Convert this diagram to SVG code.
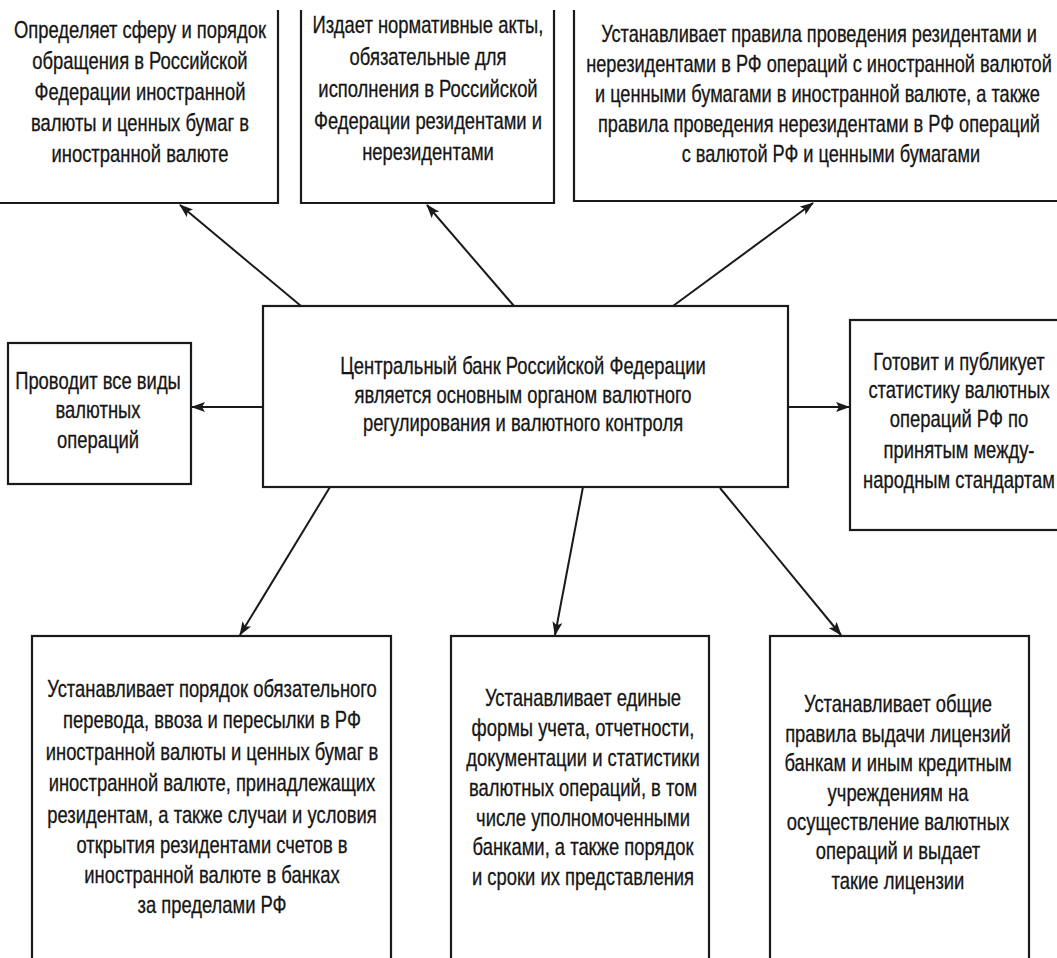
<svg xmlns="http://www.w3.org/2000/svg" width="1057" height="958" viewBox="0 0 1057 958">
<style>
.box{fill:#fff;stroke:#1a1a1a;stroke-width:2.2}
.t{font-family:"Liberation Sans",Arial,sans-serif;font-size:23px;fill:#151515;stroke:#151515;stroke-width:0.3;text-anchor:middle}
.c{stroke:#1a1a1a;stroke-width:2;fill:none}
</style>
<defs>
<marker id="ah" viewBox="0 0 14 10" refX="13" refY="5" markerWidth="14" markerHeight="10" markerUnits="userSpaceOnUse" orient="auto">
<path d="M0,0 L14,5 L0,10 L3,5 Z" fill="#1a1a1a"/>
</marker>
</defs>
<rect width="1057" height="958" fill="#fff"/>

<g id="connectors">
<line class="c" x1="301" y1="306" x2="180" y2="205" marker-end="url(#ah)"/>
<line class="c" x1="514" y1="306" x2="427" y2="205" marker-end="url(#ah)"/>
<line class="c" x1="673" y1="306" x2="813" y2="203" marker-end="url(#ah)"/>
<line class="c" x1="263" y1="407" x2="192" y2="407" marker-end="url(#ah)"/>
<line class="c" x1="788" y1="407" x2="849" y2="407" marker-end="url(#ah)"/>
<line class="c" x1="330" y1="487" x2="240" y2="635" marker-end="url(#ah)"/>
<line class="c" x1="583" y1="487" x2="555" y2="635" marker-end="url(#ah)"/>
<line class="c" x1="720" y1="488" x2="841" y2="635" marker-end="url(#ah)"/>
</g>

<g id="n_top_left">
<path class="box" d="M278,10 L278,203 L-5,203"/>
<text class="t" transform="translate(140 0) scale(0.8 1)"><tspan x="0" y="38">Определяет сферу и порядок</tspan><tspan x="0" y="69">обращения в Российской</tspan><tspan x="0" y="100">Федерации иностранной</tspan><tspan x="0" y="131">валюты и ценных бумаг в</tspan><tspan x="0" y="162">иностранной валюте</tspan></text>
</g>

<g id="n_top_mid">
<path class="box" d="M301,10 L301,203 L554,203 L554,10"/>
<text class="t" transform="translate(428 0) scale(0.8 1)"><tspan x="0" y="33">Издает нормативные акты,</tspan><tspan x="0" y="65">обязательные для</tspan><tspan x="0" y="97">исполнения в Российской</tspan><tspan x="0" y="129">Федерации резидентами и</tspan><tspan x="0" y="160">нерезидентами</tspan></text>
</g>

<g id="n_top_right">
<path class="box" d="M574,10 L574,201 L1065,201"/>
<text class="t" transform="translate(819 0) scale(0.79 1)"><tspan x="0" y="42">Устанавливает правила проведения резидентами и</tspan><tspan x="0" y="72">нерезидентами в РФ операций с иностранной валютой</tspan><tspan x="-2" y="102">и ценными бумагами в иностранной валюте, а также</tspan><tspan x="0" y="132">правила проведения нерезидентами в РФ операций</tspan><tspan x="15" y="162">с валютой РФ и ценными бумагами</tspan></text>
</g>

<g id="n_center">
<rect class="box" x="263" y="306" width="525" height="181"/>
<text class="t" transform="translate(523 0) scale(0.8 1)"><tspan x="0" y="374">Центральный банк Российской Федерации</tspan><tspan x="0" y="403">является основным органом валютного</tspan><tspan x="0" y="431">регулирования и валютного контроля</tspan></text>
</g>

<g id="n_left">
<rect class="box" x="8" y="343" width="183" height="141"/>
<text class="t" transform="translate(98 0) scale(0.8 1)"><tspan x="0" y="389">Проводит все виды</tspan><tspan x="0" y="418">валютных</tspan><tspan x="0" y="448">операций</tspan></text>
</g>

<g id="n_right">
<rect class="box" x="850" y="320" width="220" height="210"/>
<text class="t" transform="translate(959 0) scale(0.8 1)"><tspan x="0" y="370">Готовит и публикует</tspan><tspan x="0" y="398">статистику валютных</tspan><tspan x="0" y="427">операций РФ по</tspan><tspan x="0" y="458">принятым между-</tspan><tspan x="0" y="488">народным стандартам</tspan></text>
</g>

<g id="n_bottom_left">
<rect class="box" x="32" y="636" width="359" height="340"/>
<text class="t" transform="translate(212 0) scale(0.8 1)"><tspan x="0" y="697">Устанавливает порядок обязательного</tspan><tspan x="0" y="728">перевода, ввоза и пересылки в РФ</tspan><tspan x="0" y="760">иностранной валюты и ценных бумаг в</tspan><tspan x="0" y="791">иностранной валюте, принадлежащих</tspan><tspan x="0" y="823">резидентам, а также случаи и условия</tspan><tspan x="0" y="853">открытия резидентами счетов в</tspan><tspan x="0" y="883">иностранной валюте в банках</tspan><tspan x="0" y="913">за пределами РФ</tspan></text>
</g>

<g id="n_bottom_mid">
<rect class="box" x="451" y="636" width="258" height="340"/>
<text class="t" transform="translate(583 0) scale(0.8 1)"><tspan x="0" y="706">Устанавливает единые</tspan><tspan x="0" y="736">формы учета, отчетности,</tspan><tspan x="0" y="766">документации и статистики</tspan><tspan x="0" y="796">валютных операций, в том</tspan><tspan x="0" y="826">числе уполномоченными</tspan><tspan x="0" y="855">банками, а также порядок</tspan><tspan x="0" y="885">и сроки их представления</tspan></text>
</g>

<g id="n_bottom_right">
<rect class="box" x="770" y="636" width="259" height="340"/>
<text class="t" transform="translate(898 0) scale(0.8 1)"><tspan x="0" y="712">Устанавливает общие</tspan><tspan x="0" y="742">правила выдачи лицензий</tspan><tspan x="0" y="771">банкам и иным кредитным</tspan><tspan x="0" y="801">учреждениям на</tspan><tspan x="0" y="830">осуществление валютных</tspan><tspan x="0" y="859">операций и выдает</tspan><tspan x="0" y="889">такие лицензии</tspan></text>
</g>
</svg>
